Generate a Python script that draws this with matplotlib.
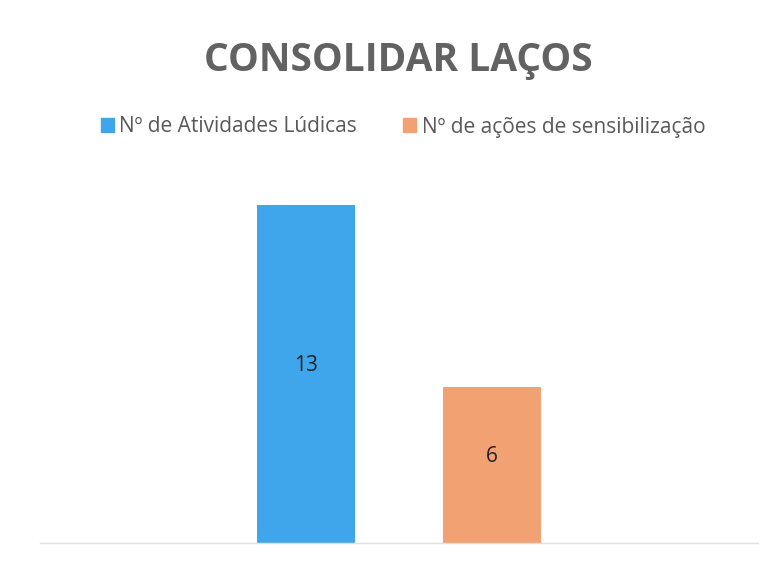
import matplotlib.pyplot as plt
from matplotlib.patches import Patch

# data
series = ['Nº de Atividades Lúdicas', 'Nº de ações de sensibilização']
values = [13, 6]
colors = ['#3FA6EC', '#F2A272']

fig = plt.figure(figsize=(7.77, 5.70), dpi=100)
W, H = 777, 570
ax = fig.add_axes([40 / W, (H - 543) / H, (758 - 40) / W, (543 - 179) / H])

x = [0, 1]
bars = ax.bar(x, values, width=0.527, color=colors, zorder=2)
for b, v in zip(bars, values):
    ax.annotate(str(v), (b.get_x() + b.get_width() / 2, v / 2), xytext=(0, 6),
                textcoords='offset points', ha='center', va='center',
                fontsize=15, color='#222222', family='Open Sans')

ax.set_xlim(-1.43, 2.43)
ax.set_ylim(0, 14)
ax.set_xticks([])
ax.set_yticks([])
for s in ['top', 'left', 'right']:
    ax.spines[s].set_visible(False)
ax.spines['bottom'].set_color('#E0E0E0')
ax.spines['bottom'].set_linewidth(1)

fig.text(0.513, 1 - 60 / H, 'CONSOLIDAR LAÇOS', ha='center', va='center',
         fontsize=28, fontweight='bold', color='#626262', family='Open Sans')

handles = [Patch(color=c, label=s) for c, s in zip(colors, series)]
fig.legend(handles=handles, loc='center', bbox_to_anchor=(403 / W, 1 - 127 / H), ncol=2,
           frameon=False, handlelength=0.62, handleheight=0.62,
           handletextpad=0.25, columnspacing=2.25,
           prop={'family': 'Open Sans', 'size': 15}, labelcolor='#595959')

fig.savefig('out.png', dpi=100)
